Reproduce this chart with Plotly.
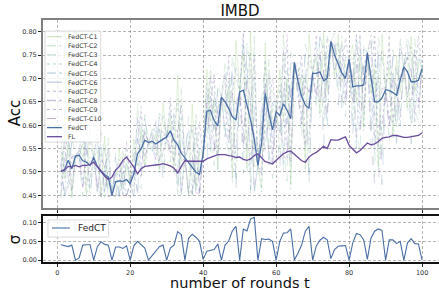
import plotly.graph_objects as go

rounds = list(range(1, 101))

fedct = [0.502,0.505,0.525,0.507,0.534,0.536,0.524,0.521,0.514,0.531,
0.512,0.502,0.494,0.489,0.450,0.479,0.481,0.480,0.484,0.475,
0.496,0.539,0.550,0.568,0.563,0.566,0.560,0.565,0.570,0.575,
0.588,0.568,0.558,0.540,0.530,0.520,0.510,0.500,0.495,0.540,
0.630,0.632,0.610,0.598,0.660,0.650,0.636,0.618,0.611,0.671,
0.675,0.643,0.611,0.571,0.514,0.561,0.668,0.625,0.590,0.629,
0.621,0.646,0.632,0.614,0.734,0.693,0.661,0.643,0.636,0.711,
0.711,0.714,0.695,0.700,0.779,0.750,0.729,0.712,0.700,0.741,
0.682,0.684,0.684,0.686,0.754,0.700,0.650,0.650,0.658,0.676,
0.674,0.670,0.664,0.696,0.725,0.714,0.693,0.693,0.696,0.721]

fl = [0.502,0.504,0.512,0.511,0.514,0.511,0.514,0.514,0.516,0.521,
0.511,0.501,0.491,0.484,0.489,0.504,0.512,0.525,0.532,0.521,
0.511,0.496,0.507,0.512,0.513,0.514,0.514,0.516,0.518,0.516,
0.513,0.508,0.498,0.512,0.524,0.523,0.523,0.522,0.522,0.523,
0.528,0.531,0.535,0.537,0.537,0.537,0.535,0.534,0.531,0.532,
0.527,0.525,0.528,0.535,0.539,0.530,0.522,0.520,0.517,0.525,
0.533,0.539,0.543,0.545,0.538,0.530,0.524,0.521,0.532,0.538,
0.542,0.548,0.555,0.550,0.569,0.568,0.568,0.572,0.575,0.557,
0.548,0.541,0.546,0.553,0.562,0.558,0.560,0.565,0.572,0.574,
0.575,0.578,0.578,0.576,0.574,0.574,0.575,0.576,0.578,0.584]

sigma = [0.041,0.039,0.036,0.040,0.000,0.006,0.040,0.041,0.041,0.000,
0.036,0.049,0.042,0.040,0.000,0.035,0.035,0.031,0.038,0.000,
0.038,0.050,0.041,0.032,0.000,0.012,0.023,0.036,0.040,0.000,
0.032,0.040,0.076,0.068,0.000,0.058,0.069,0.061,0.050,0.002,
0.024,0.027,0.028,0.043,0.000,0.040,0.051,0.078,0.090,0.000,
0.083,0.078,0.110,0.114,0.000,0.057,0.055,0.056,0.050,0.000,
0.050,0.072,0.073,0.083,0.000,0.019,0.041,0.077,0.090,0.000,
0.038,0.053,0.061,0.054,0.004,0.028,0.037,0.038,0.039,0.000,
0.046,0.071,0.068,0.054,0.002,0.059,0.077,0.083,0.079,0.000,
0.054,0.054,0.044,0.050,0.000,0.046,0.057,0.044,0.043,0.000]

c1 = [0.582,0.485,0.558,0.445,0.534,0.533,0.560,0.452,0.594,0.531,
0.545,0.445,0.577,0.468,0.450,0.447,0.550,0.464,0.518,0.475,
0.570,0.513,0.587,0.513,0.563,0.560,0.581,0.504,0.648,0.575,
0.617,0.500,0.707,0.505,0.530,0.450,0.645,0.468,0.541,0.540,
0.720,0.608,0.652,0.507,0.660,0.629,0.682,0.487,0.781,0.671,
0.753,0.509,0.800,0.512,0.514,0.465,0.776,0.596,0.636,0.629,
0.719,0.608,0.699,0.474,0.734,0.683,0.698,0.513,0.795,0.711,
0.745,0.624,0.798,0.672,0.779,0.703,0.795,0.692,0.736,0.741,
0.772,0.647,0.746,0.595,0.754,0.669,0.720,0.510,0.795,0.676,
0.723,0.579,0.750,0.670,0.725,0.636,0.790,0.670,0.735,0.721]

c2 = [0.445,0.587,0.534,0.538,0.534,0.549,0.534,0.553,0.450,0.531,
0.521,0.540,0.445,0.572,0.450,0.507,0.448,0.544,0.494,0.475,
0.447,0.643,0.561,0.593,0.563,0.592,0.566,0.593,0.508,0.575,
0.596,0.599,0.450,0.681,0.530,0.565,0.450,0.626,0.508,0.540,
0.558,0.728,0.622,0.640,0.660,0.733,0.649,0.679,0.475,0.671,
0.697,0.705,0.455,0.790,0.514,0.605,0.582,0.742,0.603,0.629,
0.543,0.796,0.651,0.679,0.734,0.733,0.672,0.703,0.496,0.711,
0.721,0.755,0.600,0.790,0.779,0.772,0.671,0.790,0.710,0.741,
0.610,0.785,0.702,0.728,0.754,0.780,0.670,0.715,0.534,0.676,
0.688,0.712,0.596,0.785,0.725,0.750,0.604,0.784,0.707,0.721]

c3 = [0.544,0.454,0.450,0.575,0.534,0.528,0.448,0.590,0.556,0.531,
0.447,0.585,0.538,0.447,0.450,0.539,0.518,0.448,0.450,0.475,
0.535,0.474,0.465,0.623,0.563,0.550,0.512,0.626,0.612,0.575,
0.521,0.636,0.637,0.452,0.530,0.618,0.582,0.450,0.455,0.540,
0.678,0.572,0.514,0.689,0.660,0.598,0.530,0.749,0.701,0.671,
0.496,0.777,0.725,0.455,0.514,0.657,0.726,0.552,0.486,0.629,
0.673,0.552,0.480,0.754,0.734,0.668,0.576,0.773,0.730,0.711,
0.633,0.790,0.758,0.630,0.779,0.797,0.767,0.663,0.618,0.741,
0.730,0.592,0.543,0.777,0.754,0.623,0.490,0.790,0.740,0.676,
0.562,0.761,0.710,0.631,0.725,0.792,0.752,0.636,0.606,0.721]

c4 = [0.475,0.551,0.591,0.445,0.534,0.543,0.597,0.447,0.487,0.531,
0.578,0.448,0.466,0.536,0.450,0.448,0.458,0.516,0.553,0.475,
0.471,0.598,0.624,0.509,0.563,0.580,0.602,0.499,0.544,0.575,
0.647,0.495,0.508,0.619,0.530,0.452,0.465,0.571,0.586,0.540,
0.600,0.686,0.694,0.500,0.660,0.697,0.728,0.477,0.554,0.671,
0.795,0.499,0.539,0.704,0.514,0.457,0.632,0.691,0.681,0.629,
0.588,0.731,0.765,0.463,0.734,0.716,0.735,0.503,0.577,0.711,
0.780,0.617,0.655,0.763,0.779,0.700,0.705,0.756,0.771,0.741,
0.652,0.767,0.790,0.588,0.754,0.769,0.790,0.499,0.606,0.676,
0.772,0.572,0.635,0.755,0.725,0.630,0.656,0.744,0.774,0.721]

c5 = [0.518,0.446,0.567,0.528,0.534,0.524,0.571,0.542,0.530,0.531,
0.554,0.528,0.511,0.447,0.450,0.497,0.495,0.449,0.528,0.475,
0.511,0.452,0.598,0.585,0.563,0.542,0.587,0.584,0.586,0.575,
0.626,0.589,0.588,0.455,0.530,0.550,0.537,0.455,0.554,0.540,
0.648,0.542,0.664,0.626,0.660,0.572,0.695,0.658,0.645,0.671,
0.776,0.684,0.654,0.460,0.514,0.591,0.690,0.515,0.649,0.629,
0.641,0.505,0.718,0.657,0.734,0.655,0.709,0.683,0.671,0.711,
0.755,0.742,0.719,0.595,0.779,0.764,0.743,0.638,0.746,0.741,
0.700,0.546,0.763,0.714,0.754,0.584,0.740,0.693,0.689,0.676,
0.737,0.698,0.681,0.598,0.725,0.738,0.715,0.607,0.746,0.721]

c6 = [0.448,0.531,0.511,0.564,0.534,0.540,0.508,0.579,0.450,0.531,
0.498,0.572,0.446,0.515,0.450,0.530,0.447,0.500,0.469,0.475,
0.448,0.572,0.534,0.614,0.563,0.574,0.551,0.617,0.476,0.575,
0.575,0.625,0.455,0.584,0.530,0.603,0.452,0.540,0.475,0.540,
0.522,0.662,0.592,0.675,0.660,0.676,0.616,0.729,0.460,0.671,
0.641,0.756,0.462,0.645,0.514,0.642,0.538,0.662,0.570,0.629,
0.504,0.693,0.603,0.733,0.734,0.706,0.645,0.753,0.470,0.711,
0.696,0.790,0.553,0.735,0.779,0.790,0.643,0.737,0.685,0.741,
0.574,0.730,0.658,0.763,0.754,0.739,0.620,0.769,0.473,0.676,
0.653,0.747,0.561,0.729,0.725,0.780,0.560,0.722,0.679,0.721]

c7 = [0.555,0.495,0.473,0.533,0.534,0.534,0.467,0.548,0.567,0.531,
0.460,0.534,0.549,0.479,0.450,0.502,0.527,0.472,0.450,0.475,
0.545,0.526,0.492,0.589,0.563,0.563,0.527,0.589,0.622,0.575,
0.542,0.594,0.657,0.522,0.530,0.558,0.600,0.484,0.455,0.540,
0.690,0.620,0.544,0.633,0.660,0.640,0.563,0.669,0.724,0.671,
0.552,0.695,0.754,0.541,0.514,0.598,0.740,0.610,0.518,0.629,
0.686,0.627,0.527,0.668,0.734,0.688,0.603,0.693,0.753,0.711,
0.657,0.749,0.774,0.686,0.779,0.768,0.777,0.702,0.644,0.741,
0.742,0.666,0.587,0.721,0.754,0.685,0.540,0.704,0.761,0.676,
0.597,0.705,0.721,0.683,0.725,0.744,0.767,0.682,0.634,0.721]

c8 = [0.513,0.566,0.487,0.460,0.534,0.546,0.482,0.473,0.525,0.531,
0.474,0.447,0.505,0.551,0.450,0.448,0.490,0.528,0.449,0.475,
0.506,0.617,0.508,0.530,0.563,0.585,0.536,0.523,0.580,0.575,
0.554,0.521,0.578,0.646,0.530,0.452,0.528,0.595,0.456,0.540,
0.642,0.704,0.562,0.535,0.660,0.712,0.583,0.527,0.634,0.671,
0.585,0.550,0.640,0.749,0.514,0.494,0.682,0.713,0.538,0.629,
0.634,0.759,0.556,0.517,0.734,0.723,0.619,0.553,0.659,0.711,
0.672,0.652,0.711,0.784,0.779,0.718,0.739,0.771,0.659,0.741,
0.694,0.794,0.614,0.623,0.754,0.792,0.570,0.553,0.679,0.676,
0.618,0.607,0.675,0.774,0.725,0.660,0.708,0.761,0.651,0.721]

c9 = [0.470,0.510,0.605,0.465,0.534,0.537,0.612,0.479,0.482,0.531,
0.592,0.451,0.461,0.494,0.450,0.449,0.453,0.484,0.567,0.475,
0.467,0.546,0.640,0.534,0.563,0.568,0.611,0.527,0.539,0.575,
0.659,0.526,0.499,0.549,0.530,0.460,0.456,0.508,0.606,0.540,
0.594,0.638,0.712,0.542,0.660,0.655,0.748,0.537,0.543,0.671,
0.800,0.561,0.525,0.586,0.514,0.502,0.625,0.632,0.701,0.629,
0.582,0.655,0.794,0.528,0.734,0.696,0.751,0.563,0.566,0.711,
0.794,0.659,0.648,0.707,0.779,0.721,0.700,0.717,0.787,0.741,
0.646,0.693,0.795,0.630,0.754,0.708,0.790,0.564,0.596,0.676,
0.793,0.614,0.630,0.703,0.725,0.666,0.649,0.699,0.791,0.721]

c10 = [0.518,0.447,0.473,0.533,0.534,0.526,0.467,0.548,0.530,0.531,
0.460,0.534,0.511,0.447,0.450,0.502,0.495,0.449,0.450,0.475,
0.511,0.461,0.492,0.589,0.563,0.547,0.527,0.589,0.586,0.575,
0.542,0.594,0.588,0.455,0.530,0.558,0.537,0.455,0.455,0.540,
0.648,0.560,0.544,0.633,0.660,0.588,0.563,0.669,0.645,0.671,
0.552,0.695,0.654,0.460,0.514,0.598,0.690,0.537,0.518,0.629,
0.641,0.533,0.527,0.668,0.734,0.663,0.603,0.693,0.671,0.711,
0.657,0.749,0.719,0.616,0.779,0.768,0.743,0.653,0.644,0.741,
0.700,0.574,0.587,0.721,0.754,0.560,0.475,0.480,0.560,0.676,
0.597,0.705,0.681,0.618,0.725,0.744,0.715,0.625,0.634,0.721]

clients = [c1, c2, c3, c4, c5, c6, c7, c8, c9, c10]
client_names = ["FedCT-C%d" % i for i in range(1, 11)]
client_colors = ["rgba(140,200,110,0.28)", "rgba(130,190,140,0.28)", "rgba(110,180,150,0.28)",
                 "rgba(100,170,165,0.28)", "rgba(90,150,175,0.28)", "rgba(90,130,180,0.28)",
                 "rgba(100,115,180,0.28)", "rgba(115,100,175,0.28)", "rgba(130,95,170,0.28)",
                 "rgba(140,90,165,0.28)"]
legend_colors = [c.replace("0.28)", "0.5)") for c in client_colors]
client_dash = ["solid", "dashdot", "dash", "dot", "dashdot", "longdash", "dot", "dashdot", "dot", "dash"]

y_ticks = [0.45, 0.50, 0.55, 0.60, 0.65, 0.70, 0.75, 0.80]
s_ticks = [0.00, 0.05, 0.10]
x_ticks = [0, 20, 40, 60, 80, 100]

BLUE = "#4a6fa5"
PURPLE = "#6a4c9c"
FONT = "DejaVu Sans"

fig = go.Figure()
for vals, name, col, dsh in zip(clients, client_names, client_colors, client_dash):
    fig.add_trace(go.Scatter(x=rounds, y=vals, mode="lines", name=name,
                             line=dict(color=col, width=0.9, dash=dsh),
                             xaxis="x", yaxis="y", showlegend=False))
fig.add_trace(go.Scatter(x=rounds, y=fedct, mode="lines", name="FedCT",
                         line=dict(color=BLUE, width=1.3), xaxis="x", yaxis="y", showlegend=False))
fig.add_trace(go.Scatter(x=rounds, y=fl, mode="lines", name="FL",
                         line=dict(color=PURPLE, width=1.3), xaxis="x", yaxis="y", showlegend=False))
fig.add_trace(go.Scatter(x=rounds, y=sigma, mode="lines", name="FedCT",
                         line=dict(color=BLUE, width=1.1), xaxis="x2", yaxis="y2", showlegend=False))

W, H = 443, 292
ML, MR, MT, MB = 43, 0, 20, 30
PW, PH = W - ML - MR, H - MT - MB
X_RANGE = [-3.9, -3.9 + PW / 3.667]


def px(xp):
    return (xp - ML) / PW


def py(yp):
    return (H - MB - yp) / PH


grid = dict(showgrid=True, gridcolor="rgba(110,110,110,0.5)", gridwidth=0.7, griddash="3px,2px")
tickfont = dict(family=FONT, size=6.5, color="#333")

shapes = []
annotations = []

# main legend (manual)
shapes.append(dict(type="rect", xref="paper", yref="paper", x0=px(45), x1=px(101), y0=py(142), y1=py(31),
                   fillcolor="rgba(255,255,255,0.8)", line=dict(color="#d0d0d0", width=0.8), layer="above"))
leg_items = list(zip(client_names, legend_colors, client_dash)) + [("FedCT", BLUE, "solid"), ("FL", PURPLE, "solid")]
for i, (name, col, dsh) in enumerate(leg_items):
    yy = 36.7 + i * 9.09
    shapes.append(dict(type="line", xref="paper", yref="paper", x0=px(47), x1=px(62), y0=py(yy), y1=py(yy),
                       line=dict(color=col, width=1.3 if i >= 10 else 1, dash=dsh), layer="above"))
    annotations.append(dict(text=name, xref="paper", yref="paper", x=px(66), y=py(yy), xanchor="left",
                            yanchor="middle", showarrow=False, font=dict(family=FONT, size=6.3, color="#333")))

# sigma legend (manual)
shapes.append(dict(type="rect", xref="paper", yref="paper", x0=px(48), x1=px(109), y0=py(237), y1=py(220),
                   fillcolor="rgba(255,255,255,0.8)", line=dict(color="#d0d0d0", width=0.8), layer="above"))
shapes.append(dict(type="line", xref="paper", yref="paper", x0=px(52), x1=px(70), y0=py(228), y1=py(228),
                   line=dict(color=BLUE, width=1.1), layer="above"))
annotations.append(dict(text="FedCT", xref="paper", yref="paper", x=px(76), y=py(228), xanchor="left",
                        yanchor="middle", showarrow=False, font=dict(family=FONT, size=9, color="#222")))

# axis titles
annotations.append(dict(text="Acc", xref="paper", yref="paper", x=px(15), y=py(113), textangle=-90,
                        xanchor="center", yanchor="middle", showarrow=False,
                        font=dict(family=FONT, size=15, color="#111")))
annotations.append(dict(text="σ", xref="paper", yref="paper", x=px(15), y=py(239), textangle=-90,
                        xanchor="center", yanchor="middle", showarrow=False,
                        font=dict(family=FONT, size=15, color="#111")))
annotations.append(dict(text="number of rounds t", xref="paper", yref="paper", x=px(241), y=py(283),
                        xanchor="center", yanchor="middle", showarrow=False,
                        font=dict(family=FONT, size=14.5, color="#111")))

fig.update_layout(
    width=W, height=H,
    margin=dict(l=ML, r=MR, t=MT, b=MB),
    paper_bgcolor="white", plot_bgcolor="white",
    showlegend=False,
    title=dict(text="IMBD", x=px(241), xref="paper", xanchor="center", y=1 - 11 / H, yanchor="middle",
               font=dict(family=FONT, size=15, color="#111")),
    xaxis=dict(domain=[0, 1], anchor="y", range=X_RANGE, tickvals=x_ticks, showticklabels=False,
               ticks="outside", ticklen=3, tickcolor="#222", showline=True, mirror=True,
               linecolor="#808080", linewidth=2, zeroline=False, **grid),
    yaxis=dict(domain=[py(208), 1], anchor="x", range=[0.423, 0.825], tickvals=y_ticks,
               ticktext=["%.2f" % v for v in y_ticks], ticks="outside", ticklen=3, tickcolor="#222",
               tickfont=tickfont, showline=True, mirror=True, linecolor="#808080", linewidth=2,
               zeroline=False, **grid),
    xaxis2=dict(domain=[0, 1], anchor="y2", range=X_RANGE, tickvals=x_ticks,
                ticks="outside", ticklen=3, tickcolor="#222", tickfont=tickfont,
                showline=True, mirror=True, linecolor="#111", linewidth=1.5, zeroline=False, **grid),
    yaxis2=dict(domain=[0, py(216)], anchor="x2", range=[-0.005, 0.1176], tickvals=s_ticks,
                ticktext=["%.2f" % v for v in s_ticks], ticks="outside", ticklen=3, tickcolor="#222",
                tickfont=tickfont, showline=True, mirror=True, linecolor="#111", linewidth=1.5,
                zeroline=False, **grid),
    shapes=shapes,
    annotations=annotations,
)

fig.write_html("out.html", config={"displayModeBar": False},
               post_script="document.body.style.margin='0';document.body.style.overflow='hidden';")
